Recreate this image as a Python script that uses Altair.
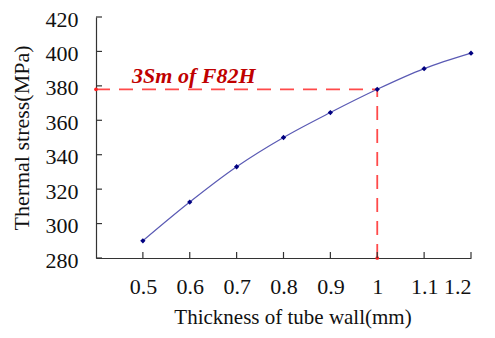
import altair as alt
import pandas as pd

thickness = [0.5, 0.6, 0.7, 0.8, 0.9, 1.0, 1.1, 1.2]
stress = [290, 312.5, 333, 350, 364.5, 378, 390, 399]
y_ticks = [280, 300, 320, 340, 360, 380, 400, 420]
x_ticks = [0.5, 0.6, 0.7, 0.8, 0.9, 1.0, 1.1, 1.2]
limit_value = 378
limit_x = 1.0
limit_label = "3Sm of F82H"

W, H = 375, 241
FONT = "Liberation Serif"

df = pd.DataFrame({"t": thickness, "s": stress})
xs = alt.Scale(domain=[0.4, 1.2], nice=False, zero=False)
ys = alt.Scale(domain=[280, 420], nice=False, zero=False)

xaxis = alt.Axis(
    values=x_ticks, title="Thickness of tube wall(mm)", grid=False,
    tickSize=0, labelPadding=18, labelFontSize=22, labelFont=FONT, labelOverlap=False,
    labelColor="#111", titleFont=FONT, titleFontSize=21, titleFontWeight="normal",
    titleColor="#111", titlePadding=9, titleX=W / 2 + 9, titleAnchor="start", titleAlign="center",
    domainColor="#333", domainWidth=1.2,
    labelExpr="datum.value == 1 ? '1' : format(datum.value, '.1f')")
yaxis = alt.Axis(
    values=y_ticks, title="Thermal stress(MPa)", grid=False,
    tickSize=0, labelPadding=18, labelFontSize=22, labelFont=FONT, labelOverlap=False,
    labelSeparation=0, labelBound=False, labelOffset=2,
    labelColor="#111", titleFont=FONT, titleFontSize=22, titleFontWeight="normal",
    titleColor="#111", titlePadding=12, domainColor="#333", domainWidth=1.2,
    labelExpr="datum.label")


def X(f):
    return alt.X(f, type="quantitative", scale=xs, axis=xaxis)


def Y(f):
    return alt.Y(f, type="quantitative", scale=ys, axis=yaxis)


line = alt.Chart(df).mark_line(interpolate="monotone", color="#5a5ab4", strokeWidth=1.2).encode(x=X("t"), y=Y("s"))
pts = alt.Chart(df).mark_point(shape="diamond", filled=True, color="#000080", size=28, opacity=1).encode(
    x=X("t"), y=Y("s"))

ytick_df = pd.DataFrame({"v": y_ticks})
yt = alt.Chart(ytick_df).mark_rule(color="#333", strokeWidth=1.2).encode(
    y=Y("v"), x=alt.value(0), x2=alt.value(6))
xtick_df = pd.DataFrame({"v": x_ticks})
xt = alt.Chart(xtick_df).mark_rule(color="#333", strokeWidth=1.2).encode(
    x=X("v"), y=alt.value(H), y2=alt.value(H - 6))

hdf = pd.DataFrame({"x0": [0.4], "x1": [limit_x], "y": [limit_value]})
hline = alt.Chart(hdf).mark_rule(color="#ff4a4a", strokeWidth=1.8, strokeDash=[14, 9]).encode(
    x=X("x0"), x2="x1:Q", y=Y("y"))
vdf = pd.DataFrame({"x": [limit_x], "y0": [280], "y1": [limit_value]})
vline = alt.Chart(vdf).mark_rule(color="#ff4a4a", strokeWidth=1.8, strokeDash=[14, 9]).encode(
    x=X("x"), y=Y("y0"), y2="y1:Q")
ddf = pd.DataFrame({"x": [0.4, limit_x], "y": [limit_value, 280]})
dots = alt.Chart(ddf).mark_point(shape="circle", filled=True, color="#ff2020", size=14, opacity=1).encode(
    x=X("x"), y=Y("y"))

tdf = pd.DataFrame({"x": [0.477], "y": [limit_value], "label": [limit_label]})
txt = alt.Chart(tdf).mark_text(align="left", baseline="alphabetic", dy=-6, font=FONT, fontSize=22,
                               fontStyle="italic", fontWeight="bold", color="#c00000").encode(
    x=X("x"), y=Y("y"), text="label:N")

chart = alt.layer(line, hline, vline, pts, dots, yt, xt, txt).properties(
    width=W, height=H, autosize=alt.AutoSizeParams(type="none"),
    padding={"left": 88, "top": 9, "right": 16, "bottom": 72},
    background="white"
).configure_axis(
    labelOverlap=False, grid=False, tickSize=0
).configure_view(stroke=None)

chart.save("out.html", embed_options={"renderer": "svg", "actions": False})
